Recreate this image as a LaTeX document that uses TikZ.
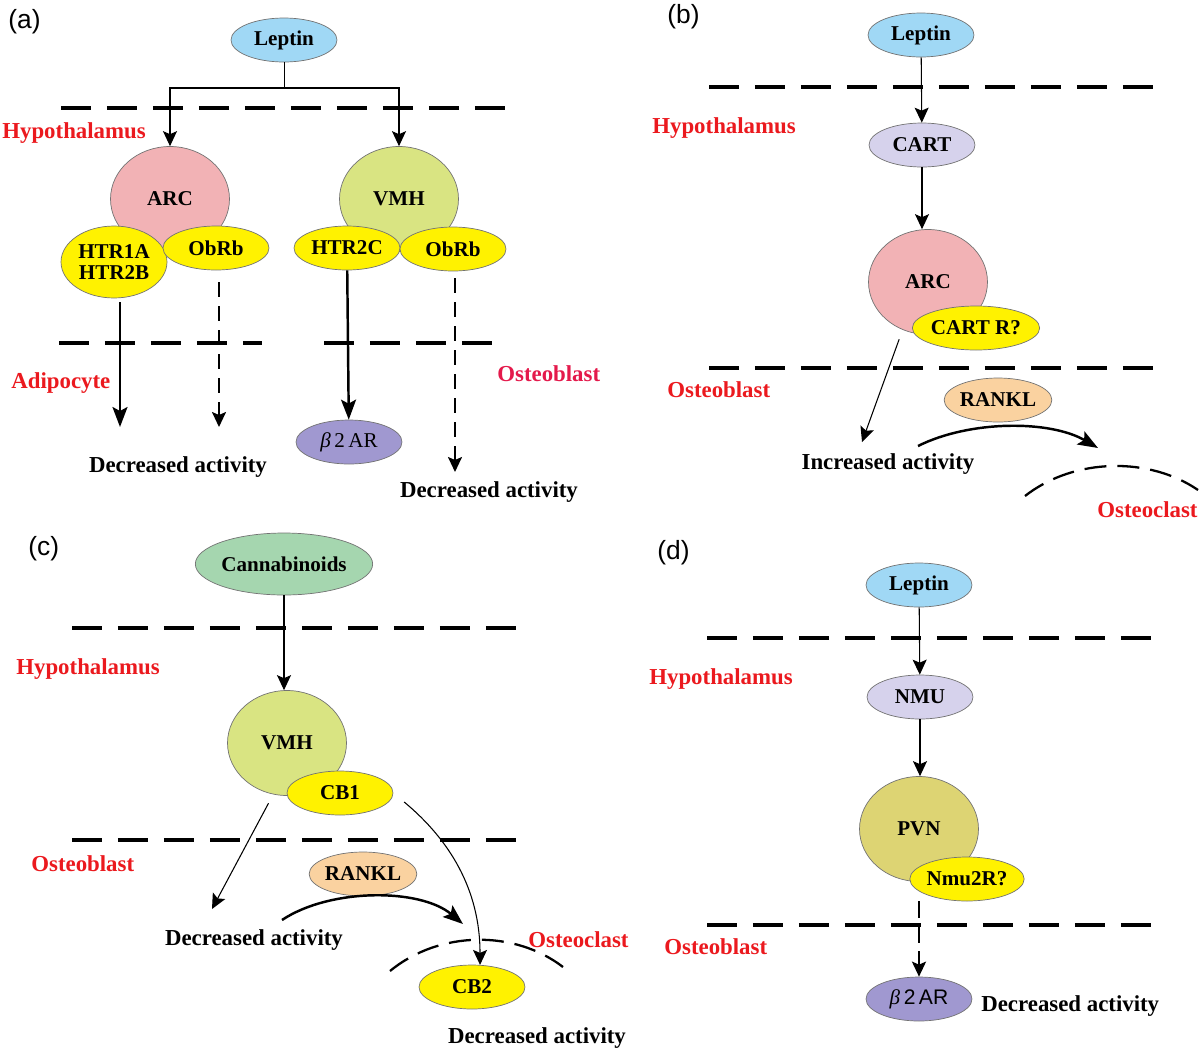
\documentclass[tikz,border=0pt]{standalone}
\usepackage{fontspec}
\setmainfont{Liberation Serif}
\newfontfamily\arialfont{Liberation Sans}
\usetikzlibrary{arrows.meta,shapes.geometric,positioning}
\definecolor{lepblue}{RGB}{160,216,245}
\definecolor{arcpink}{RGB}{242,178,181}
\definecolor{vmhgreen}{RGB}{217,228,130}
\definecolor{recyellow}{RGB}{255,242,0}
\definecolor{b2purple}{RGB}{160,152,208}
\definecolor{cartlav}{RGB}{214,210,236}
\definecolor{ranklor}{RGB}{250,210,160}
\definecolor{cangreen}{RGB}{165,214,175}
\definecolor{pvnkhaki}{RGB}{221,212,115}
\definecolor{regred}{RGB}{235,25,30}
\definecolor{obred}{RGB}{228,25,75}

\begin{document}
\begin{tikzpicture}[x=0.02cm,y=-0.02cm,
  >={Stealth[length=0.3cm,width=0.28cm,inset=0.06cm]},
  every node/.style={inner sep=0pt},
  mol/.style={ellipse,draw=black!55,line width=0.4pt,minimum width=2.12cm,minimum height=0.88cm,font=\bfseries\fontsize{12}{11.5}\selectfont},
  nuc/.style={mol,minimum width=2.38cm,minimum height=2.1cm},
  sep/.style={line width=1.9pt,dash pattern=on 0.6cm off 0.32cm},
  reg/.style={text=regred,font=\bfseries\fontsize{13}{15}\selectfont,anchor=west},
  txt/.style={font=\bfseries\fontsize{13}{15}\selectfont},
  pan/.style={font=\arialfont\fontsize{15}{18}\selectfont,anchor=west},
  tarr/.style={->,line width=0.6pt},
  karr/.style={-{Stealth[length=0.4cm,width=0.3cm,inset=0.08cm]},line width=1.4pt},
  darr/.style={->,line width=1.2pt,dash pattern=on 0.3cm off 0.18cm},
  arcd/.style={line width=1.3pt,dash pattern=on 0.44cm off 0.22cm}]
\useasboundingbox (0,0) rectangle (1201,1049);

% (a)
\node [pan] (pa) at (8,22) {(a)};
\node [mol,fill=lepblue] (lepA) at (284,40) {Leptin};
\draw [sep] (61,108) -- (508,108);
\node [reg] (hypA) at (2,133) {Hypothalamus};
\node [nuc,fill=arcpink] (arcA) at (170,199) {ARC};
\node [nuc,fill=vmhgreen] (vmhA) at (399,199) {VMH};
\node [mol,fill=recyellow,minimum height=1.44cm,align=center] (htrA) at (114,262) {HTR1A\\HTR2B};
\node [mol,fill=recyellow] (obA1) at (216,248) {ObRb};
\node [mol,fill=recyellow] (htr2A) at (347,248) {HTR2C};
\node [mol,fill=recyellow] (obA2) at (453,249) {ObRb};
\coordinate (jA) at (284,88);
\draw (lepA) -- (jA);
\draw [tarr] (jA) -| (arcA);
\draw [tarr] (jA) -| (vmhA);
\draw [sep] (59,343) -- (262,343);
\draw [sep] (324,343) -- (494,343);
\node [reg] (adiA) at (11,383) {Adipocyte};
\node [reg,text=obred] (obsA) at (497,374) {Osteoblast};
\node [mol,fill=b2purple,font=\fontsize{12}{12}\selectfont] (b2A) at (349,442) {\textit{β}\,2\,AR};
\coordinate (eA1) at (120,427);
\coordinate (eA2) at (219,427);
\coordinate (eA4) at (455,472);
\draw [karr,shorten <=0.08cm] (htrA.south -| eA1) -- (eA1);
\draw [darr,shorten <=0.24cm] (obA1.south -| eA2) -- (eA2);
\draw [karr] (htr2A) -- (b2A);
\draw [darr,shorten <=0.14cm] (obA2.south -| eA4) -- (eA4);
\node [txt] (decA1) at (178,467) {Decreased activity};
\node [txt] (decA2) at (489,492) {Decreased activity};

% (b)
\node [pan] (pb) at (667,17) {(b)};
\node [mol,fill=lepblue] (lepB) at (921,35) {Leptin};
\draw [sep] (709,87) -- (1156,87);
\node [reg] (hypB) at (652,128) {Hypothalamus};
\node [mol,fill=cartlav] (cartB) at (922,145) {CART};
\node [nuc,fill=arcpink] (arcB) at (928,282) {ARC};
\node [mol,fill=recyellow] (crB) at (976,328) {CART R?};
\draw [sep] (709,368) -- (1156,368);
\node [reg] (obsB) at (667,390) {Osteoblast};
\node [mol,fill=ranklor] (rankB) at (998,400) {RANKL};
\node [txt] (incB) at (888,464) {Increased activity};
\node [reg] (oclB) at (1097,510) {Osteoclast};
\draw [tarr] (lepB) -- (cartB);
\draw [tarr] (cartB) -- (cartB |- arcB.north);
\coordinate (aB) at (862,442);
\draw [tarr,shorten <=0.2cm] (arcB.-118) -- (aB);
\coordinate (kB1) at (918,446);
\coordinate (kB2) at (1098,448);
\draw [karr] (kB1) .. controls (970,420) and (1050,420) .. (kB2);
\draw [arcd] (1025,496) .. controls (1075,457) and (1150,457) .. (1198,490);

% (c)
\node [pan] (pc) at (28,549) {(c)};
\node [mol,fill=cangreen,minimum width=3.2cm,minimum height=1.24cm] (canC) at (284,564) {Cannabinoids};
\draw [sep] (72,628) -- (520,628);
\node [reg] (hypC) at (16,669) {Hypothalamus};
\node [nuc,fill=vmhgreen] (vmhC) at (287,743) {VMH};
\node [mol,fill=recyellow] (cb1C) at (340,793) {CB1};
\draw [sep] (72,840) -- (520,840);
\node [reg] (obsC) at (31,864) {Osteoblast};
\node [mol,fill=ranklor] (rankC) at (363,874) {RANKL};
\node [txt] (decC1) at (254,940) {Decreased activity};
\node [reg] (oclC) at (528,940) {Osteoclast};
\draw [arcd] (390,971) .. controls (440,930) and (515,930) .. (563,967);
\node [mol,fill=recyellow] (cb2C) at (472,987) {CB2};
\node [txt] (decC2) at (537,1038) {Decreased activity};
\draw [tarr] (canC) -- (canC |- vmhC.north);
\coordinate (aC) at (212,909);
\draw [tarr,shorten <=0.2cm] (vmhC.-105) -- (aC);
\draw [tarr,shorten <=0.28cm] (cb1C.east) .. controls (450,840) and (480,890) .. (cb2C.70);
\coordinate (kC1) at (282,920);
\coordinate (kC2) at (463,924);
\draw [karr] (kC1) .. controls (330,888) and (420,888) .. (kC2);

% (d)
\node [pan] (pd) at (657,553) {(d)};
\node [mol,fill=lepblue] (lepD) at (919,585) {Leptin};
\draw [sep] (707,638) -- (1156,638);
\node [reg] (hypD) at (649,679) {Hypothalamus};
\node [mol,fill=cartlav] (nmuD) at (920,697) {NMU};
\node [nuc,fill=pvnkhaki] (pvnD) at (919,829) {PVN};
\node [mol,fill=recyellow] (nmD) at (967,879) {Nmu2R?};
\draw [sep] (707,925) -- (1156,925);
\node [reg] (obsD) at (664,947) {Osteoblast};
\node [mol,fill=b2purple,font=\arialfont\fontsize{12}{12}\selectfont] (b2D) at (919,999) {{\rmfamily\itshape β}\,2\,AR};
\node [txt,anchor=west] (decD) at (981,1006) {Decreased activity};
\draw [tarr] (lepD) -- (nmuD);
\draw [tarr] (nmuD) -- (nmuD |- pvnD.north);
\draw [darr,line width=1.4pt,dash pattern=on 0.34cm off 0.16cm] (b2D.north |- nmD.south) -- (b2D);
\end{tikzpicture}
\end{document}
